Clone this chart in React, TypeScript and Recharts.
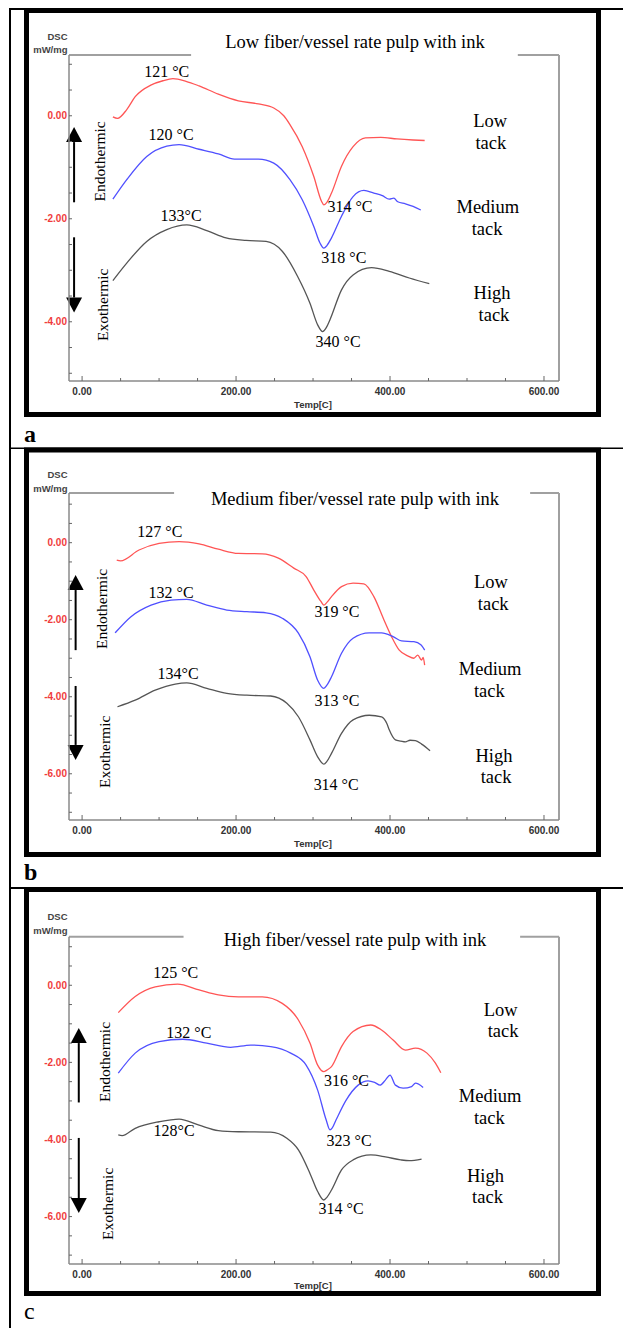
import { LineChart, Line, XAxis, YAxis, ReferenceLine, ReferenceDot } from 'recharts';

type Pt = { t: number; v: number };
type Note = { t: number; v: number; text: string };

// panel a: low fiber/vessel rate pulp with ink
const lowTackA: Pt[] = [
  { t: 40, v: -0.02 }, { t: 46, v: -0.05 }, { t: 58, v: 0.12 }, { t: 69, v: 0.37 }, { t: 90, v: 0.6 },
  { t: 105, v: 0.68 }, { t: 118, v: 0.72 }, { t: 135, v: 0.67 }, { t: 152, v: 0.58 }, { t: 177, v: 0.42 },
  { t: 203, v: 0.29 }, { t: 229, v: 0.23 }, { t: 249, v: 0.15 }, { t: 262, v: 0.0 }, { t: 270, v: -0.17 },
  { t: 286, v: -0.6 }, { t: 301, v: -1.18 }, { t: 311, v: -1.66 }, { t: 314, v: -1.73 }, { t: 318, v: -1.68 },
  { t: 324, v: -1.5 }, { t: 337, v: -0.98 }, { t: 352, v: -0.6 }, { t: 368, v: -0.43 }, { t: 388, v: -0.42 },
  { t: 409, v: -0.45 }, { t: 430, v: -0.47 }, { t: 445, v: -0.48 },
];
const mediumTackA: Pt[] = [
  { t: 40, v: -1.62 }, { t: 58, v: -1.24 }, { t: 84, v: -0.79 }, { t: 110, v: -0.59 }, { t: 126, v: -0.56 },
  { t: 152, v: -0.65 }, { t: 177, v: -0.74 }, { t: 198, v: -0.84 }, { t: 229, v: -0.84 }, { t: 249, v: -0.92 },
  { t: 270, v: -1.24 }, { t: 286, v: -1.63 }, { t: 301, v: -2.15 }, { t: 309, v: -2.47 }, { t: 314, v: -2.57 },
  { t: 318, v: -2.52 }, { t: 324, v: -2.37 }, { t: 337, v: -1.95 }, { t: 352, v: -1.57 }, { t: 366, v: -1.45 },
  { t: 379, v: -1.5 }, { t: 390, v: -1.55 }, { t: 399, v: -1.62 }, { t: 405, v: -1.6 }, { t: 410, v: -1.67 },
  { t: 420, v: -1.71 }, { t: 430, v: -1.76 }, { t: 440, v: -1.83 },
];
const highTackA: Pt[] = [
  { t: 40, v: -3.2 }, { t: 58, v: -2.86 }, { t: 84, v: -2.44 }, { t: 110, v: -2.21 }, { t: 136, v: -2.12 },
  { t: 162, v: -2.23 }, { t: 187, v: -2.37 }, { t: 213, v: -2.42 }, { t: 239, v: -2.44 }, { t: 260, v: -2.63 },
  { t: 280, v: -3.12 }, { t: 296, v: -3.64 }, { t: 306, v: -4.06 }, { t: 312.5, v: -4.19 }, { t: 317, v: -4.12 },
  { t: 322, v: -3.96 }, { t: 337, v: -3.38 }, { t: 352, v: -3.09 }, { t: 376, v: -2.95 }, { t: 399, v: -3.02 },
  { t: 425, v: -3.15 }, { t: 451, v: -3.26 },
];

// panel b: medium fiber/vessel rate pulp with ink
const lowTackB: Pt[] = [
  { t: 45, v: -0.45 }, { t: 50, v: -0.47 }, { t: 74, v: -0.19 }, { t: 100, v: -0.02 }, { t: 126, v: 0.03 },
  { t: 152, v: -0.03 }, { t: 177, v: -0.17 }, { t: 203, v: -0.28 }, { t: 234, v: -0.29 }, { t: 255, v: -0.4 },
  { t: 275, v: -0.66 }, { t: 291, v: -0.88 }, { t: 301, v: -1.23 }, { t: 310, v: -1.52 }, { t: 314, v: -1.62 },
  { t: 318, v: -1.55 }, { t: 324, v: -1.4 }, { t: 337, v: -1.14 }, { t: 352, v: -1.05 }, { t: 366, v: -1.07 },
  { t: 379, v: -1.4 }, { t: 392, v: -2.0 }, { t: 402, v: -2.44 }, { t: 412, v: -2.79 }, { t: 423, v: -2.94 },
  { t: 431, v: -3.0 }, { t: 436, v: -2.92 }, { t: 441, v: -3.05 }, { t: 443, v: -2.98 }, { t: 445, v: -3.18 },
];
const mediumTackB: Pt[] = [
  { t: 43, v: -2.34 }, { t: 63.5, v: -1.92 }, { t: 89.6, v: -1.62 }, { t: 115.5, v: -1.49 }, { t: 136, v: -1.47 },
  { t: 162, v: -1.62 }, { t: 188, v: -1.75 }, { t: 214, v: -1.79 }, { t: 239, v: -1.82 }, { t: 260, v: -1.96 },
  { t: 281, v: -2.35 }, { t: 296, v: -2.96 }, { t: 306, v: -3.57 }, { t: 314, v: -3.78 }, { t: 318, v: -3.7 },
  { t: 324, v: -3.48 }, { t: 337, v: -2.87 }, { t: 352, v: -2.48 }, { t: 373, v: -2.34 }, { t: 389, v: -2.34 },
  { t: 404, v: -2.44 }, { t: 415, v: -2.55 }, { t: 431, v: -2.57 }, { t: 440, v: -2.65 }, { t: 445, v: -2.79 },
];
const highTackB: Pt[] = [
  { t: 46, v: -4.26 }, { t: 69, v: -4.09 }, { t: 95, v: -3.83 }, { t: 121, v: -3.67 }, { t: 136, v: -3.64 },
  { t: 162, v: -3.78 }, { t: 188, v: -3.91 }, { t: 214, v: -3.96 }, { t: 245, v: -3.98 }, { t: 266, v: -4.17 },
  { t: 281, v: -4.52 }, { t: 296, v: -5.12 }, { t: 306, v: -5.56 }, { t: 314, v: -5.75 }, { t: 318, v: -5.68 },
  { t: 324, v: -5.47 }, { t: 337, v: -4.95 }, { t: 352, v: -4.6 }, { t: 373, v: -4.48 }, { t: 389, v: -4.52 },
  { t: 396, v: -4.7 }, { t: 399, v: -4.86 }, { t: 407, v: -5.12 }, { t: 414, v: -5.15 }, { t: 420, v: -5.17 },
  { t: 426, v: -5.13 }, { t: 433, v: -5.14 }, { t: 441, v: -5.23 }, { t: 452, v: -5.4 },
];

// panel c: high fiber/vessel rate pulp with ink
const lowTackC: Pt[] = [
  { t: 47, v: -0.71 }, { t: 69, v: -0.29 }, { t: 95, v: -0.04 }, { t: 124, v: 0.03 }, { t: 152, v: -0.12 },
  { t: 177, v: -0.25 }, { t: 203, v: -0.3 }, { t: 234, v: -0.3 }, { t: 260, v: -0.47 }, { t: 281, v: -0.9 },
  { t: 296, v: -1.5 }, { t: 306, v: -2.07 }, { t: 314, v: -2.24 }, { t: 318, v: -2.2 }, { t: 324, v: -2.11 },
  { t: 337, v: -1.59 }, { t: 352, v: -1.2 }, { t: 375, v: -1.03 }, { t: 389, v: -1.16 }, { t: 404, v: -1.42 },
  { t: 420, v: -1.68 }, { t: 433, v: -1.63 }, { t: 448, v: -1.76 }, { t: 459, v: -2.02 }, { t: 466, v: -2.27 },
];
const mediumTackC: Pt[] = [
  { t: 47, v: -2.28 }, { t: 69, v: -1.76 }, { t: 100, v: -1.46 }, { t: 131, v: -1.4 }, { t: 162, v: -1.5 },
  { t: 193, v: -1.61 }, { t: 219, v: -1.55 }, { t: 245, v: -1.59 }, { t: 271, v: -1.76 }, { t: 291, v: -2.07 },
  { t: 306, v: -2.72 }, { t: 317, v: -3.49 }, { t: 322, v: -3.75 }, { t: 325, v: -3.7 }, { t: 330, v: -3.49 },
  { t: 343, v: -2.98 }, { t: 358.6, v: -2.59 }, { t: 371.5, v: -2.48 }, { t: 380, v: -2.52 }, { t: 387, v: -2.59 },
  { t: 394, v: -2.46 }, { t: 400, v: -2.33 }, { t: 407, v: -2.59 }, { t: 417, v: -2.67 }, { t: 428, v: -2.63 },
  { t: 433, v: -2.54 }, { t: 443, v: -2.65 },
];
const highTackC: Pt[] = [
  { t: 47, v: -3.88 }, { t: 52, v: -3.9 }, { t: 69, v: -3.71 }, { t: 100, v: -3.54 }, { t: 126, v: -3.47 },
  { t: 152, v: -3.63 }, { t: 177, v: -3.77 }, { t: 203, v: -3.8 }, { t: 245, v: -3.81 }, { t: 266, v: -3.97 },
  { t: 281, v: -4.27 }, { t: 296, v: -4.88 }, { t: 306, v: -5.35 }, { t: 314, v: -5.57 }, { t: 318, v: -5.5 },
  { t: 324, v: -5.31 }, { t: 337, v: -4.79 }, { t: 352, v: -4.53 }, { t: 375, v: -4.4 }, { t: 394, v: -4.45 },
  { t: 414, v: -4.53 }, { t: 425, v: -4.55 }, { t: 441, v: -4.51 },
];

const xTicks = [0, 50, 100, 150, 200, 250, 300, 350, 400, 450, 500, 550, 600];
const xMajor = [0, 200, 400, 600];
const yTicksA = [1, 0.5, 0, -0.5, -1, -1.5, -2, -2.5, -3, -3.5, -4, -4.5, -5];
const yTicksBC = [1, 0.5, 0, -0.5, -1, -1.5, -2, -2.5, -3, -3.5, -4, -4.5, -5, -5.5, -6, -6.5, -7];
const yMajor = [0, -2, -4, -6];

const peakNotesA: Note[] = [
  { t: 110, v: 0.87, text: '121 °C' }, { t: 115.6, v: -0.36, text: '120 °C' }, { t: 128.6, v: -1.94, text: '133°C' },
  { t: 348, v: -1.76, text: '314 °C' }, { t: 340, v: -2.75, text: '318 °C' }, { t: 332.5, v: -4.37, text: '340 °C' },
];
const peakNotesB: Note[] = [
  { t: 101, v: 0.31, text: '127 °C' }, { t: 115.6, v: -1.28, text: '132 °C' }, { t: 124.7, v: -3.38, text: '134°C' },
  { t: 331, v: -1.77, text: '319 °C' }, { t: 331, v: -4.1, text: '313 °C' }, { t: 330, v: -6.27, text: '314 °C' },
];
const peakNotesC: Note[] = [
  { t: 121.6, v: 0.35, text: '125 °C' }, { t: 138.6, v: -1.22, text: '132 °C' }, { t: 119.5, v: -3.77, text: '128°C' },
  { t: 343.5, v: -2.46, text: '316 °C' }, { t: 346.8, v: -4.02, text: '323 °C' }, { t: 336.4, v: -5.78, text: '314 °C' },
];
const tackNotesA: Note[] = [
  { t: 530, v: -0.09, text: 'Low' }, { t: 531, v: -0.52, text: 'tack' },
  { t: 527, v: -1.76, text: 'Medium' }, { t: 526, v: -2.19, text: 'tack' },
  { t: 532.5, v: -3.43, text: 'High' }, { t: 535, v: -3.86, text: 'tack' },
];
const tackNotesB: Note[] = [
  { t: 531, v: -1.01, text: 'Low' }, { t: 534, v: -1.57, text: 'tack' },
  { t: 530, v: -3.27, text: 'Medium' }, { t: 529, v: -3.83, text: 'tack' },
  { t: 535, v: -5.51, text: 'High' }, { t: 537.7, v: -6.06, text: 'tack' },
];
const tackNotesC: Note[] = [
  { t: 543.6, v: -0.62, text: 'Low' }, { t: 546.8, v: -1.18, text: 'tack' },
  { t: 530, v: -2.85, text: 'Medium' }, { t: 529, v: -3.42, text: 'tack' },
  { t: 524, v: -4.92, text: 'High' }, { t: 526.6, v: -5.48, text: 'tack' },
];

const titles = [
  'Low fiber/vessel rate pulp with ink',
  'Medium fiber/vessel rate pulp with ink',
  'High fiber/vessel rate pulp with ink',
];

const COLORS = ['#ff5555', '#5050ff', '#555555'];
const SERIF = '"Liberation Serif", "Times New Roman", serif';
const SANS = '"Liberation Sans", Arial, sans-serif';
const X_DOMAIN: [number, number] = [-17, 619.5];

const panels = [
  {
    top: 0, height: 440, margin: { top: 55, right: 64, bottom: 29, left: 29 },
    yDomain: [-5.15, 1.18] as [number, number], yTicks: yTicksA,
    series: [lowTackA, mediumTackA, highTackA], peaks: peakNotesA, tacks: tackNotesA,
    gap: [141.6, 566], endo: { t: 22, v: -0.885 }, exo: { t: 26, v: -3.67 },
    arrowX: -10.4, up: [-1.68, -0.22], down: [-2.36, -3.82],
    frameY: 10.5, frameH: 404, titleY: 47.5, dscY: 39.5, tempY: 407.5, letterY: 442, letter: 'a',
  },
  {
    top: 440, height: 440, margin: { top: 53, right: 64, bottom: 30, left: 29 },
    yDomain: [-7.2, 1.29] as [number, number], yTicks: yTicksBC,
    series: [lowTackB, mediumTackB, highTackB], peaks: peakNotesB, tacks: tackNotesB,
    gap: [119.5, 582], endo: { t: 24.7, v: -1.72 }, exo: { t: 28.6, v: -5.43 },
    arrowX: -8.4, up: [-2.79, -0.84], down: [-3.72, -5.64],
    frameY: 450, frameH: 404.5, titleY: 505, dscY: 478, tempY: 846.5, letterY: 880, letter: 'b',
  },
  {
    top: 880, height: 448, margin: { top: 56.7, right: 64, bottom: 34, left: 29 },
    yDomain: [-7.23, 1.26] as [number, number], yTicks: yTicksBC,
    series: [lowTackC, mediumTackC, highTackC], peaks: peakNotesC, tacks: tackNotesC,
    gap: [131.8, 569], endo: { t: 28.6, v: -1.99 }, exo: { t: 32.5, v: -5.67 },
    arrowX: -4.3, up: [-3.04, -1.11], down: [-3.96, -5.91],
    frameY: 889.5, frameH: 404, titleY: 946, dscY: 920, tempY: 1289, letterY: 1319, letter: 'c',
  },
];

const XTick = ({ x, y, payload }: any) => {
  const major = xMajor.includes(payload.value);
  return (
    <g>
      <line x1={x} x2={x} y1={y} y2={y - (major ? 5 : 3)} stroke="#666" strokeWidth={1} />
      {major && (
        <text x={x} y={y + 13.5} textAnchor="middle" fontSize={10} fontWeight="bold" fill="#333" fontFamily={SANS}>
          {payload.value.toFixed(2)}
        </text>
      )}
    </g>
  );
};

const YTick = ({ x, y, payload }: any) => {
  const major = yMajor.includes(payload.value);
  return (
    <g>
      <line x1={x} x2={x + 3} y1={y} y2={y} stroke="#666" strokeWidth={1} />
      {major && (
        <text x={x - 2} y={y + 3.5} textAnchor="end" fontSize={10} fontWeight="bold" fill="#f03c3c" fontFamily={SANS}>
          {payload.value.toFixed(2)}
        </text>
      )}
    </g>
  );
};

const Arrow = (p: any) => {
  const { x1, y1, x2, y2 } = p;
  const dir = y2 < y1 ? 1 : -1;
  const hb = y2 + dir * 15;
  return (
    <g>
      <line x1={x1} y1={y1} x2={x2} y2={hb} stroke="#000" strokeWidth={2} />
      <polygon points={`${x2},${y2} ${x2 - 8},${hb} ${x2 + 8},${hb}`} fill="#000" />
    </g>
  );
};

const noteShape = (text: string, size: number, stretch: number) => (p: any) => (
  <text
    transform={`translate(${p.cx},${p.cy}) scale(1,${stretch})`}
    x={0}
    y={0}
    textAnchor="middle"
    dominantBaseline="central"
    fontSize={size}
    fontFamily={SERIF}
    fill="#000"
  >
    {text}
  </text>
);

const sideShape = (text: string) => (p: any) => (
  <text
    transform={`translate(${p.cx},${p.cy}) rotate(-90)`}
    x={0}
    y={0}
    textAnchor="middle"
    dominantBaseline="central"
    fontSize={15.5}
    fontFamily={SERIF}
    fill="#000"
  >
    {text}
  </text>
);

const Panel = ({ cfg }: { cfg: (typeof panels)[number] }) => {
  const yTop = cfg.yDomain[1];
  return (
    <div style={{ position: 'absolute', left: 0, top: cfg.top }}>
      <LineChart width={623} height={cfg.height} margin={cfg.margin}>
        <XAxis
          type="number"
          dataKey="t"
          domain={X_DOMAIN}
          allowDataOverflow
          ticks={xTicks}
          interval={0}
          tick={<XTick />}
          tickLine={false}
          tickSize={0}
          tickMargin={0}
          height={30}
          axisLine={{ stroke: '#8a8a8a', strokeWidth: 1.5 }}
        />
        <YAxis
          type="number"
          dataKey="v"
          domain={cfg.yDomain}
          allowDataOverflow
          ticks={cfg.yTicks}
          interval={0}
          tick={<YTick />}
          tickLine={false}
          tickSize={0}
          tickMargin={0}
          width={40}
          axisLine={{ stroke: '#8a8a8a', strokeWidth: 1.5 }}
        />
        <ReferenceLine segment={[{ x: X_DOMAIN[0], y: yTop }, { x: cfg.gap[0], y: yTop }]} stroke="#a0a0a0" strokeWidth={2} />
        <ReferenceLine segment={[{ x: cfg.gap[1], y: yTop }, { x: X_DOMAIN[1], y: yTop }]} stroke="#a0a0a0" strokeWidth={2} />
        <ReferenceLine x={X_DOMAIN[1]} stroke="#a0a0a0" strokeWidth={2} />
        <ReferenceLine segment={[{ x: cfg.arrowX, y: cfg.up[0] }, { x: cfg.arrowX, y: cfg.up[1] }]} shape={Arrow} />
        <ReferenceLine segment={[{ x: cfg.arrowX, y: cfg.down[0] }, { x: cfg.arrowX, y: cfg.down[1] }]} shape={Arrow} />
        <ReferenceDot x={cfg.endo.t} y={cfg.endo.v} r={0} shape={sideShape('Endothermic')} />
        <ReferenceDot x={cfg.exo.t} y={cfg.exo.v} r={0} shape={sideShape('Exothermic')} />
        {cfg.series.map((s, i) => (
          <Line
            key={i}
            data={s}
            dataKey="v"
            type="monotone"
            stroke={COLORS[i]}
            strokeWidth={1.3}
            dot={false}
            isAnimationActive={false}
          />
        ))}
        {cfg.peaks.map((n, i) => (
          <ReferenceDot key={'p' + i} x={n.t} y={n.v} r={0} shape={noteShape(n.text, 16, 1.1)} />
        ))}
        {cfg.tacks.map((n, i) => (
          <ReferenceDot key={'k' + i} x={n.t} y={n.v} r={0} shape={noteShape(n.text, 18.5, 1.06)} />
        ))}
      </LineChart>
    </div>
  );
};

export default function App() {
  return (
    <div style={{ position: 'absolute', left: 0, top: 0, width: 623, height: 1328, background: '#fff', overflow: 'hidden' }}>
      <svg width={623} height={1328} style={{ position: 'absolute', left: 0, top: 0 }}>
        <rect x={9} y={8} width={2} height={1320} fill="#000" />
        <rect x={9} y={8} width={614} height={2} fill="#000" />
        <rect x={9} y={447.5} width={614} height={1.5} fill="#000" />
        <rect x={9} y={887} width={614} height={2} fill="#000" />
        {panels.map((p, i) => (
          <g key={i}>
            <rect x={26.5} y={p.frameY} width={572} height={p.frameH} fill="#fff" stroke="#000" strokeWidth={5} />
            <text x={355} y={p.titleY} textAnchor="middle" fontSize={18.5} fontFamily={SERIF} fill="#000">
              {titles[i]}
            </text>
            <text x={67.5} y={p.dscY} textAnchor="end" fontSize={9.5} fontWeight="bold" fontFamily={SANS} fill="#444">
              DSC
            </text>
            <text x={67.5} y={p.dscY + 13.5} textAnchor="end" fontSize={9.5} fontWeight="bold" fontFamily={SANS} fill="#444">
              mW/mg
            </text>
            <text x={313} y={p.tempY} textAnchor="middle" fontSize={9.5} fontWeight="bold" fontFamily={SANS} fill="#333">
              Temp[C]
            </text>
            <text
              x={24}
              y={p.letterY}
              fontSize={24}
              fontWeight={p.letter === 'c' ? 'normal' : 'bold'}
              fontFamily={SERIF}
              fill="#000"
            >
              {p.letter}
            </text>
          </g>
        ))}
      </svg>
      {panels.map((p, i) => (
        <Panel key={i} cfg={p} />
      ))}
    </div>
  );
}
